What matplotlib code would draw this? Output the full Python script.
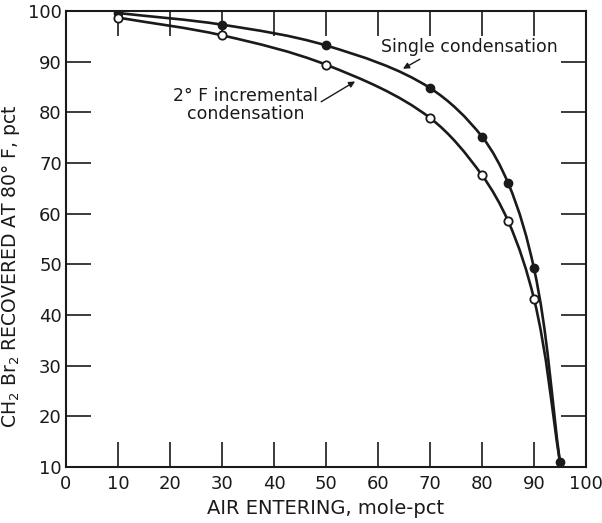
import matplotlib
matplotlib.use("Agg")
import matplotlib.pyplot as plt
import numpy as np
from matplotlib.path import Path
from matplotlib.patches import PathPatch

# data
air_single = [10, 30, 50, 70, 80, 85, 90, 95]
rec_single = [99.6, 97.3, 93.2, 84.8, 75.2, 66.1, 49.2, 10.9]

air_incr = [10, 30, 50, 70, 80, 85, 90, 95]
rec_incr = [98.7, 95.2, 89.4, 78.9, 67.6, 58.6, 43.2, 10.9]

x_ticks = list(range(0, 101, 10))
y_ticks = list(range(10, 101, 10))

INK = "#1a1a1a"
SX, SY = 5.2, 5.04  # rough px per data unit, keeps the curve round on screen


def smooth_path(xs, ys):
    # chord-length Bezier through the points (no overshoot)
    p = np.column_stack([np.asarray(xs) * SX, np.asarray(ys) * SY]).astype(float)
    n = len(p)
    tang = []
    for i in range(n):
        if i == 0:
            t = p[1] - p[0]
        elif i == n - 1:
            t = p[-1] - p[-2]
        else:
            a = p[i] - p[i - 1]
            b = p[i + 1] - p[i]
            t = a / np.linalg.norm(a) + b / np.linalg.norm(b)
        tang.append(t / np.linalg.norm(t))
    verts = [p[0]]
    codes = [Path.MOVETO]
    for i in range(n - 1):
        d = np.linalg.norm(p[i + 1] - p[i]) / 3.0
        verts += [p[i] + tang[i] * d, p[i + 1] - tang[i + 1] * d, p[i + 1]]
        codes += [Path.CURVE4] * 3
    verts = np.array(verts) / [SX, SY]
    return Path(verts, codes)


fig = plt.figure(figsize=(6.02, 5.23), dpi=100)
ax = fig.add_axes([0.1096, 0.107, 0.8638, 0.872])

for xs, ys in [(air_single, rec_single), (air_incr, rec_incr)]:
    ax.add_patch(PathPatch(smooth_path(xs, ys), fill=False, lw=1.9,
                           edgecolor=INK, zorder=2))

ax.plot(air_single, rec_single, "o", ms=6, color=INK, zorder=3)
ax.plot(air_incr[:-1], rec_incr[:-1], "o", ms=6, mfc="white", mec=INK,
        mew=1.3, zorder=3)

ax.set_xlim(0, 100)
ax.set_ylim(10, 100)
ax.set_xticks(x_ticks)
ax.set_yticks(y_ticks)
ax.tick_params(direction="in", length=18, width=1.2, top=True, right=True,
               labelsize=13, colors=INK)
ax.tick_params(axis="x", pad=6)
ax.tick_params(axis="y", pad=3)
for s in ax.spines.values():
    s.set_linewidth(1.5)
    s.set_color(INK)

ax.set_xlabel("AIR ENTERING, mole-pct", fontsize=14, color=INK, labelpad=4)
ax.set_ylabel("CH$_2$ Br$_2$ RECOVERED AT 80° F, pct", fontsize=13.5,
              color=INK)
ax.yaxis.set_label_coords(-0.084, 0.44)

ax.annotate("Single condensation", xy=(64.8, 88.6), xytext=(60.5, 92.8),
            fontsize=12.5, color=INK, va="center", ha="left",
            arrowprops=dict(arrowstyle="-|>", color=INK, lw=1.0,
                            mutation_scale=9, shrinkA=0, shrinkB=0,
                            relpos=(0.25, 0.0)))
ax.annotate("2° F incremental\ncondensation", xy=(55.6, 86.1),
            xytext=(34.6, 81.4), fontsize=12.5, color=INK, va="center",
            ha="center", linespacing=1.0,
            arrowprops=dict(arrowstyle="-|>", color=INK, lw=1.0,
                            mutation_scale=9, shrinkA=0, shrinkB=0,
                            relpos=(1.0, 0.55)))

fig.savefig("out.png", dpi=100)
